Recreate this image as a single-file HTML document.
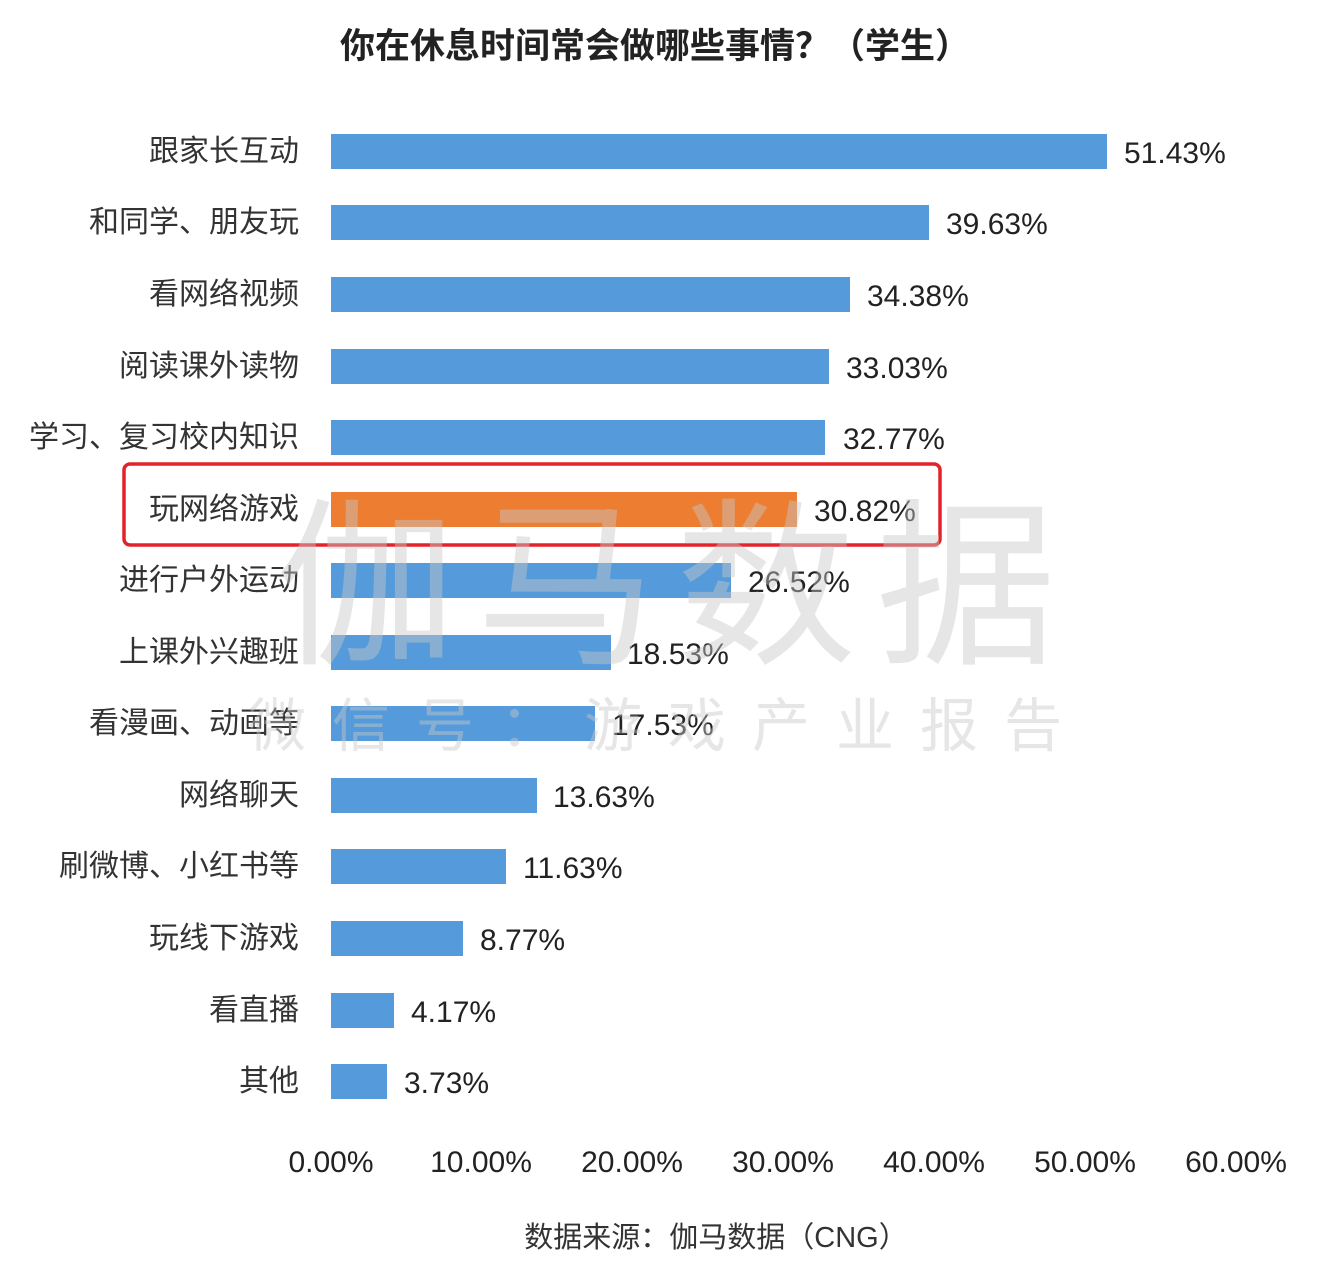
<!DOCTYPE html>
<html><head><meta charset="utf-8"><style>
html,body{margin:0;padding:0;background:#fff}
svg{display:block}
text{font-family:"Liberation Sans","Noto Sans CJK SC",sans-serif}
</style></head><body>
<svg width="1318" height="1286" viewBox="0 0 1318 1286" xmlns="http://www.w3.org/2000/svg">
<rect width="1318" height="1286" fill="#fff"/>
<text x="655" y="58" text-anchor="middle" font-size="35" font-weight="bold" fill="#222">你在休息时间常会做哪些事情？（学生）</text>
<g fill="#559bdb">
<rect x="331" y="134" width="776" height="35"/>
<rect x="331" y="205" width="598" height="35"/>
<rect x="331" y="277" width="519" height="35"/>
<rect x="331" y="349" width="498" height="35"/>
<rect x="331" y="420" width="494" height="35"/>
<rect x="331" y="563" width="400" height="35"/>
<rect x="331" y="635" width="280" height="35"/>
<rect x="331" y="706" width="264" height="35"/>
<rect x="331" y="778" width="206" height="35"/>
<rect x="331" y="849" width="175" height="35"/>
<rect x="331" y="921" width="132" height="35"/>
<rect x="331" y="993" width="63" height="35"/>
<rect x="331" y="1064" width="56" height="35"/>
</g>
<rect x="331" y="492" width="466" height="35" fill="#ed7d31"/>
<rect x="124" y="464" width="816" height="81" rx="6" fill="none" stroke="#e3232a" stroke-width="3.5"/>
<g font-size="30" fill="#333" text-anchor="end">
<text x="299" y="161">跟家长互动</text>
<text x="299" y="232">和同学、朋友玩</text>
<text x="299" y="304">看网络视频</text>
<text x="299" y="376">阅读课外读物</text>
<text x="299" y="447">学习、复习校内知识</text>
<text x="299" y="519">玩网络游戏</text>
<text x="299" y="590">进行户外运动</text>
<text x="299" y="662">上课外兴趣班</text>
<text x="299" y="733">看漫画、动画等</text>
<text x="299" y="805">网络聊天</text>
<text x="299" y="876">刷微博、小红书等</text>
<text x="299" y="948">玩线下游戏</text>
<text x="299" y="1020">看直播</text>
<text x="299" y="1091">其他</text>
</g>
<g font-size="30" fill="#222">
<text x="1124" y="163">51.43%</text>
<text x="946" y="234">39.63%</text>
<text x="867" y="306">34.38%</text>
<text x="846" y="378">33.03%</text>
<text x="843" y="449">32.77%</text>
<text x="814" y="521">30.82%</text>
<text x="748" y="592">26.52%</text>
<text x="627" y="664">18.53%</text>
<text x="612" y="735">17.53%</text>
<text x="553" y="807">13.63%</text>
<text x="523" y="878">11.63%</text>
<text x="480" y="950">8.77%</text>
<text x="411" y="1022">4.17%</text>
<text x="404" y="1093">3.73%</text>
</g>
<g font-size="30" fill="#222" text-anchor="middle">
<text x="331" y="1172">0.00%</text>
<text x="481" y="1172">10.00%</text>
<text x="632" y="1172">20.00%</text>
<text x="783" y="1172">30.00%</text>
<text x="934" y="1172">40.00%</text>
<text x="1085" y="1172">50.00%</text>
<text x="1236" y="1172">60.00%</text>
</g>
<text x="716" y="1247" text-anchor="middle" font-size="29" fill="#333">数据来源：伽马数据（CNG）</text>
<g fill="#c8c8c8" fill-opacity="0.45" text-anchor="middle">
<text x="676" y="650" font-size="180" letter-spacing="20">伽马数据</text>
<text x="668" y="746" font-size="58" letter-spacing="26">微信号：游戏产业报告</text>
</g>
</svg>
</body></html>
